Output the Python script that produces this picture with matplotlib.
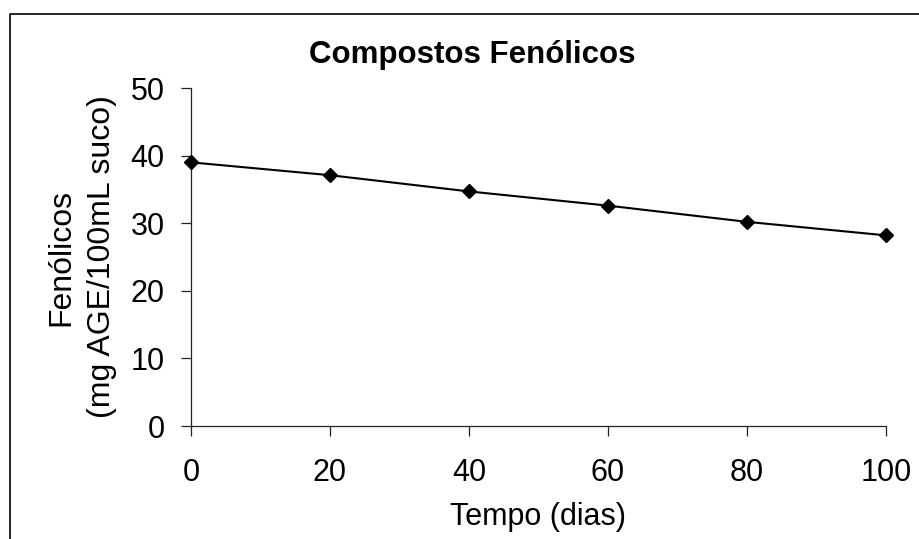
import matplotlib
matplotlib.use("Agg")
import matplotlib.pyplot as plt
from matplotlib.lines import Line2D

plt.rcParams['font.family'] = ['Liberation Sans', 'DejaVu Sans']

dias = [0, 20, 40, 60, 80, 100]
fenolicos = [39.0, 37.1, 34.7, 32.6, 30.2, 28.2]
x_ticks = [0, 20, 40, 60, 80, 100]
y_ticks = [0, 10, 20, 30, 40, 50]

W, H = 920, 539
fig = plt.figure(figsize=(W / 100, H / 100), dpi=100)
fig.patch.set_facecolor('white')

def fx(px):
    return px / W

def fy(py):
    return 1 - py / H

ax = fig.add_axes([fx(191), fy(426), fx(886) - fx(191), fy(88) - fy(426)])
ax.plot(dias, fenolicos, color='black', linewidth=1.5, marker='D',
        markersize=6.8, markerfacecolor='black', markeredgecolor='black',
        clip_on=False, zorder=3)

ax.set_xlim(0, 100)
ax.set_ylim(0, 50)
ax.set_xticks(x_ticks)
ax.set_yticks(y_ticks)
ax.set_xticklabels([str(v) for v in x_ticks])
ax.set_yticklabels([str(v) for v in y_ticks])

for s in ['top', 'right']:
    ax.spines[s].set_visible(False)
for s in ['left', 'bottom']:
    ax.spines[s].set_color('#222222')
    ax.spines[s].set_linewidth(0.9)

ax.tick_params(axis='both', direction='out', length=7, width=0.9,
               color='#222222', labelsize=22, labelcolor='black')
ax.tick_params(axis='x', pad=16)
ax.tick_params(axis='y', pad=12)

ax.set_xlabel('Tempo (dias)', fontsize=22, labelpad=10)
ax.set_ylabel('Fenólicos\n(mg AGE/100mL suco)', fontsize=23, labelpad=10,
              linespacing=1.45)

fig.text(fx(472), fy(63), 'Compostos Fenólicos', fontsize=22.5,
         fontweight='bold', ha='center', va='baseline')

# outer chart border (extends beyond right and bottom edges)
fig.add_artist(Line2D([fx(10), fx(10), fx(930)], [fy(560), fy(14), fy(14)],
                      transform=fig.transFigure, color='black', linewidth=1.2,
                      clip_on=False))

fig.savefig('out.png', dpi=100)
